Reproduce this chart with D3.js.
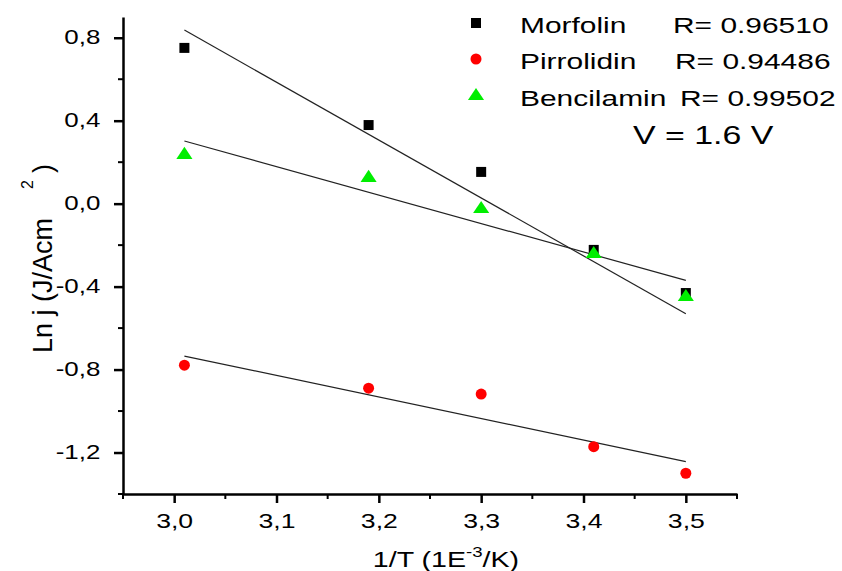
<!DOCTYPE html>
<html>
<head>
<meta charset="utf-8">
<script src="https://cdn.jsdelivr.net/npm/d3@7"></script>
<style>
  body { margin: 0; background: #fff; }
  svg { display: block; font-family: "Liberation Sans", Arial, sans-serif; }
</style>
</head>
<body>
<div id="chart"></div>
<script>
// 1/T values (1E-3/K)
const invT = [3.01, 3.19, 3.30, 3.41, 3.50]
const morfolin = [0.751, 0.379, 0.153, -0.223, -0.431]
const pirrolidin = [-0.779, -0.890, -0.918, -1.172, -1.300]
const bencilamin = [0.235, 0.124, -0.026, -0.243, -0.450]
// fitted line ends, read at 1/T = 3.01 and 3.50
const fitX = [3.01, 3.50]
const morfolinFit = [0.837, -0.531]
const pirrolidinFit = [-0.735, -1.244]
const bencilaminFit = [0.302, -0.370]
const seriesNames = ["Morfolin", "Pirrolidin", "Bencilamin"]
const rValues = ["R= 0.96510", "R= 0.94486", "R= 0.99502"]
const xTicks = [3.0, 3.1, 3.2, 3.3, 3.4, 3.5]
const yTicks = [0.8, 0.4, 0.0, -0.4, -0.8, -1.2]

const width = 842, height = 571
const SX = 1.33 // the reference text is stretched sideways

const svg = d3.select('#chart').append('svg')
  .attr('width', width)
  .attr('height', height)

const x = d3.scaleLinear().domain([2.95, 3.55]).range([123, 737])
const y = d3.scaleLinear().domain([-1.4, 0.9]).range([494, 17])

const fmt = d => d3.format('.1f')(d).replace('.', ',').replace('−', '-')

// minor ticks
const xMinor = d3.range(2.95, 3.551, 0.05).filter(v => !xTicks.some(t => Math.abs(t - v) < 1e-6))
const yMinor = d3.range(-1.4, 0.901, 0.2).filter(v => !yTicks.some(t => Math.abs(t - v) < 1e-6))

const xAxis = svg.append('g')
  .attr('transform', `translate(0,${y.range()[0]})`)
  .call(d3.axisBottom(x).tickValues(xTicks).tickFormat(fmt).tickSize(9).tickSizeOuter(0).tickPadding(11))
xAxis.append('g').selectAll('line')
  .data(xMinor)
  .join('line')
  .attr('x1', d => x(d)).attr('x2', d => x(d))
  .attr('y1', 0).attr('y2', 5)
  .attr('stroke', '#000').attr('stroke-width', 2)

const yAxis = svg.append('g')
  .attr('transform', `translate(${x.range()[0]},0)`)
  .call(d3.axisLeft(y).tickValues(yTicks).tickFormat(fmt).tickSize(9).tickSizeOuter(0).tickPadding(8))
yAxis.append('g').selectAll('line')
  .data(yMinor)
  .join('line')
  .attr('y1', d => y(d)).attr('y2', d => y(d))
  .attr('x1', 0).attr('x2', -5)
  .attr('stroke', '#000').attr('stroke-width', 2)

svg.selectAll('.domain').attr('stroke-width', 2.5)
svg.selectAll('.tick line').attr('stroke-width', 2.5)
svg.selectAll('.tick text')
  .attr('fill', '#000')
  .attr('font-family', '"Liberation Sans", Arial, sans-serif')

xAxis.selectAll('.tick text').attr('font-size', 20).attr('transform', `scale(${SX},1)`)
yAxis.selectAll('.tick text').attr('font-size', 19.5).attr('transform', `scale(${SX},1)`)

// stretched text helper
function label(g, tx, ty, str, size) {
  return g.append('text')
    .attr('transform', `translate(${tx},${ty}) scale(${SX},1)`)
    .attr('font-size', size)
    .attr('fill', '#000')
    .text(str)
}

// axis titles
const xt = svg.append('text')
  .attr('transform', `translate(446,567) scale(${SX},1)`)
  .attr('font-size', 21.5)
  .attr('text-anchor', 'middle')
xt.append('tspan').text('1/T (1E')
xt.append('tspan').attr('dy', -10).attr('font-size', 14).text('-3')
xt.append('tspan').attr('dy', 10).text('/K)')

const yt = svg.append('g').attr('transform', 'translate(52,0) rotate(-90)')
yt.append('text')
  .attr('transform', 'translate(-353,0)')
  .attr('font-size', 27)
  .text('Ln j (J/Acm')
yt.append('text')
  .attr('transform', 'translate(-189,-19)')
  .attr('font-size', 16)
  .text('2')
yt.append('text')
  .attr('transform', 'translate(-173,0)')
  .attr('font-size', 27)
  .text(')')

// fit lines
const fits = [morfolinFit, pirrolidinFit, bencilaminFit]
svg.append('g').selectAll('line')
  .data(fits)
  .join('line')
  .attr('x1', x(fitX[0])).attr('x2', x(fitX[1]))
  .attr('y1', d => y(d[0])).attr('y2', d => y(d[1]))
  .attr('stroke', '#222')
  .attr('stroke-width', 1.2)

// markers
const square = d3.symbol().type(d3.symbolSquare).size(100)
const triangle = d3.symbol().type(d3.symbolTriangle).size(85)

svg.append('g').selectAll('path')
  .data(invT.map((v, i) => [v, morfolin[i]]))
  .join('path')
  .attr('d', square)
  .attr('transform', d => `translate(${x(d[0])},${y(d[1])})`)
  .attr('fill', '#000')

svg.append('g').selectAll('circle')
  .data(invT.map((v, i) => [v, pirrolidin[i]]))
  .join('circle')
  .attr('cx', d => x(d[0])).attr('cy', d => y(d[1]))
  .attr('r', 5.5)
  .attr('fill', '#ff0000')

svg.append('g').selectAll('path')
  .data(invT.map((v, i) => [v, bencilamin[i]]))
  .join('path')
  .attr('d', triangle)
  .attr('transform', d => `translate(${x(d[0])},${y(d[1])}) scale(1.15,1)`)
  .attr('fill', '#00ee00')

// legend
const legend = svg.append('g')
const rowY = [23, 59, 96]
legend.append('path').attr('d', square).attr('transform', `translate(476,${rowY[0]})`).attr('fill', '#000')
legend.append('circle').attr('cx', 476).attr('cy', rowY[1]).attr('r', 5.5).attr('fill', '#ff0000')
legend.append('path').attr('d', triangle).attr('transform', `translate(476,${rowY[2]}) scale(1.15,1)`).attr('fill', '#00ee00')

const rX = [673, 675, 680]
seriesNames.forEach((name, i) => {
  label(legend, 520, rowY[i] + 10, name, 22.5)
  label(legend, rX[i], rowY[i] + 10, rValues[i], 22.5)
})
label(legend, 633, 144, 'V = 1.6 V', 25.5)
</script>
</body>
</html>
